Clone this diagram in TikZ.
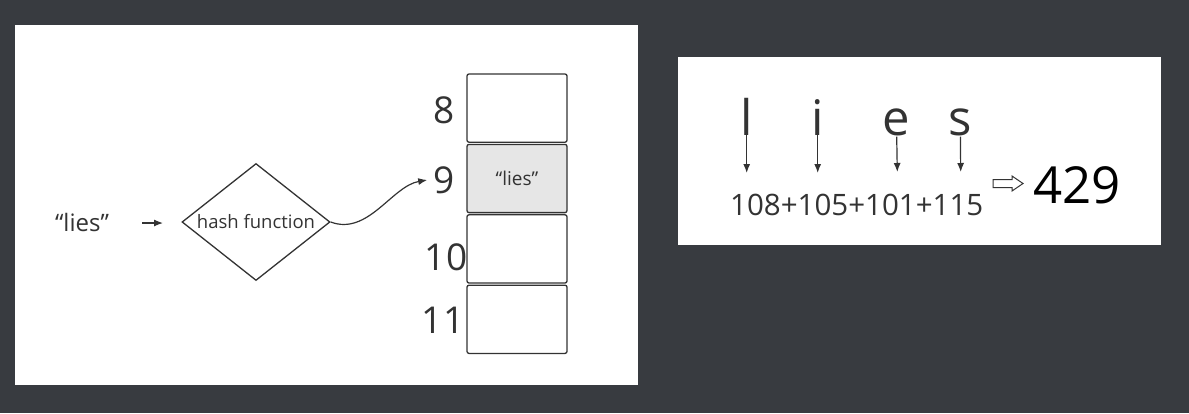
\documentclass[tikz,border=0pt]{standalone}
\usepackage{fontspec}
\setmainfont{Open Sans}
\usetikzlibrary{positioning,arrows.meta,shapes.geometric}
\definecolor{bgdark}{RGB}{56,59,64}
\definecolor{ink}{RGB}{51,51,51}
\definecolor{cellgray}{RGB}{230,230,230}
\tikzset{
  panel/.style={
    fill=white,
    draw=none
  },
  cell/.style={
    draw=ink,
    rectangle,
    rounded corners=2pt,
    line width=1.3pt,
    minimum height=68.2pt,
    minimum width=100pt,
    inner sep=0pt,
    text=ink,
    font=\fontsize{19}{22}\selectfont
  },
  hashbox/.style={
    draw=ink,
    diamond,
    aspect=1.26,
    line width=1.3pt,
    minimum height=117pt,
    minimum width=148pt,
    inner sep=0pt,
    text=ink,
    font=\fontsize{18.5}{21}\selectfont
  },
  idx/.style={text=ink,inner sep=0pt,font=\fontsize{37}{40}\selectfont},
  letter/.style={text=ink,inner sep=0pt,anchor=base,font=\fontsize{49}{52}\selectfont},
  line/.style={->,>={Latex[length=9pt,width=7pt]},draw=ink,line width=1.2pt}
}

\begin{document}
\begin{tikzpicture}[x=1pt,y=-1pt]

				\useasboundingbox[fill=bgdark] (0,0) rectangle (1189,413);
				\fill[panel] (15,25) rectangle (638,385);
				\fill[panel] (678,57) rectangle (1161,245);

				\node[text=ink, inner sep=0pt, font=\fontsize{24}{28}\selectfont] (key) at (82,222) {“lies”};
				\node[hashbox] (hash) at (256,222) {hash function};
				\coordinate (ka) at (142,223);
				\coordinate (kb) at (163,223);
				\draw[line] (ka) -- (kb) ;

				\node[cell                          ] (c8)  at (517,108.1) {};
				\node[cell, fill=cellgray, below = 0.9pt of c8] (c9)  {“lies”};
				\node[cell, below = 0.9pt of c9] (c10) {};
				\node[cell, below = 0.9pt of c10] (c11) {};

				\node[idx] (n8)  at (444,110) {8};
				\node[idx] (n9)  at (444,180) {9};
				\node[idx] (n10) at (446,257.5) {10};
				\node[idx] (n11) at (443,320) {11};

				\draw[line] (hash.east) .. controls (368,236) and (392,186) .. ([xshift=-6pt]n9.west) ;

				\node[letter] (l) at (746.7,135) {l};
				\node[letter] (i) at (817.7,135) {i};
				\node[letter] (e) at (896.7,135) {e};
				\node[letter] (s) at (960.4,135) {s};

				\node[text=ink, inner sep=0pt, anchor=base west, font=\fontsize{29.5}{32}\selectfont] (sum) at (730,215) {108+105+101+115};

				\coordinate (lt) at (746.7,173);
				\coordinate (it) at (817.7,173);
				\coordinate (et) at (897.3,172);
				\coordinate (st) at (960.7,172);
				\draw[line] (l.south) -- (lt) ;
				\draw[line] (i.south) -- (it) ;
				\draw[line] ([yshift=-1pt]e.south) -- (et) ;
				\draw[line] ([yshift=-1pt]s.south) -- (st) ;

				\node[text=black, inner sep=0pt, font=\fontsize{51}{54}\selectfont] (res) at (1077,185) {429};
				\draw[draw=ink, fill=white, line width=1pt] (993,179.5) -- (1012,179.5) -- (1012,176) -- (1023,183.5) -- (1012,191) -- (1012,187.5) -- (993,187.5) -- cycle ;

\end{tikzpicture}
\end{document}
